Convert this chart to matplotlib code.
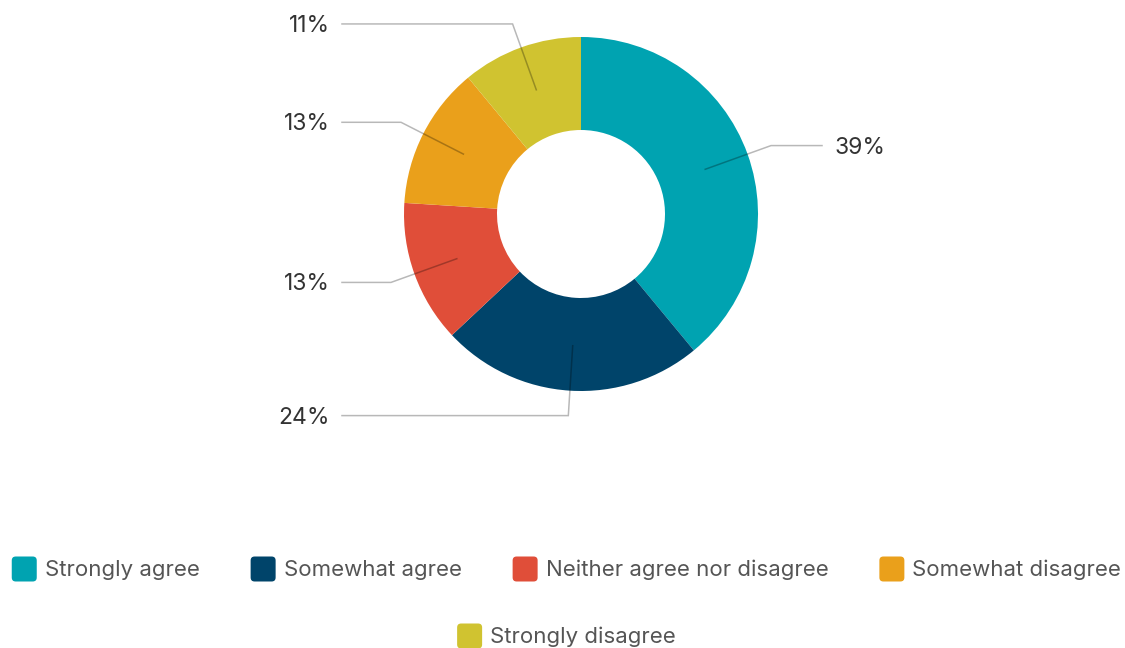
import numpy as np
import matplotlib
matplotlib.use("Agg")
import matplotlib.pyplot as plt
from matplotlib.patches import FancyBboxPatch

categories = ["Strongly agree", "Somewhat agree", "Neither agree nor disagree",
              "Somewhat disagree", "Strongly disagree"]
values = [39, 24, 13, 13, 11]
colors = ["#00A3B1", "#00446A", "#E04E39", "#EAA01B", "#D0C330"]

plt.rcParams['font.family'] = ['Inter', 'DejaVu Sans']

W, H = 1125, 648
fig = plt.figure(figsize=(W / 100, H / 100), dpi=100)
ax = fig.add_axes([0, 0, 1, 1])

cx, cy = 581, H - 214
R, width = 177, 93
ax.pie(values, colors=colors, startangle=90, counterclock=False,
       center=(cx, cy), radius=R,
       wedgeprops=dict(width=width, linewidth=0))
ax.set_xlim(0, W)
ax.set_ylim(0, H)
ax.set_aspect('equal')
ax.axis('off')

# leader lines and labels
total = float(sum(values))
cum = 0.0
for v in values:
    mid = cum + v / 2.0
    cum += v
    ang = np.deg2rad(90 - 360 * mid / total)
    x1, y1 = cx + 132 * np.cos(ang), cy + 132 * np.sin(ang)
    x2, y2 = cx + 202 * np.cos(ang), cy + 202 * np.sin(ang)
    right = np.cos(ang) > 0
    x3 = 822 if right else 342
    ax.plot([x1, x2, x3], [y1, y2, y2], color="black", alpha=0.28, lw=1.1,
            solid_joinstyle='miter')
    ax.text(835 if right else 330, y2 - 2, f"{v}%", ha='left' if right else 'right',
            va='center', fontsize=16.5, color="#333333")

# legend (manual, centered rows)
fig.canvas.draw()
renderer = fig.canvas.get_renderer()
box, gap_bt, gap_items = 25, 8, 51
rows = [[0, 1, 2, 3], [4]]
row_y = [H - 569, H - 636]
for row, ry in zip(rows, row_y):
    texts = []
    widths = []
    for i in row:
        t = ax.text(0, ry - 1, categories[i], ha='left', va='center',
                    fontsize=16, color="#555555")
        bb = t.get_window_extent(renderer)
        texts.append(t)
        widths.append(bb.width)
    total_w = sum(box + gap_bt + w for w in widths) + gap_items * (len(row) - 1)
    x = W / 2 + 4 - total_w / 2
    for i, t, w in zip(row, texts, widths):
        ax.add_patch(FancyBboxPatch((x, ry - box / 2), box, box,
                                    boxstyle="round,pad=0,rounding_size=4",
                                    facecolor=colors[i], edgecolor='none'))
        t.set_x(x + box + gap_bt)
        x += box + gap_bt + w + gap_items

fig.savefig("out.png", dpi=100, facecolor="white")
